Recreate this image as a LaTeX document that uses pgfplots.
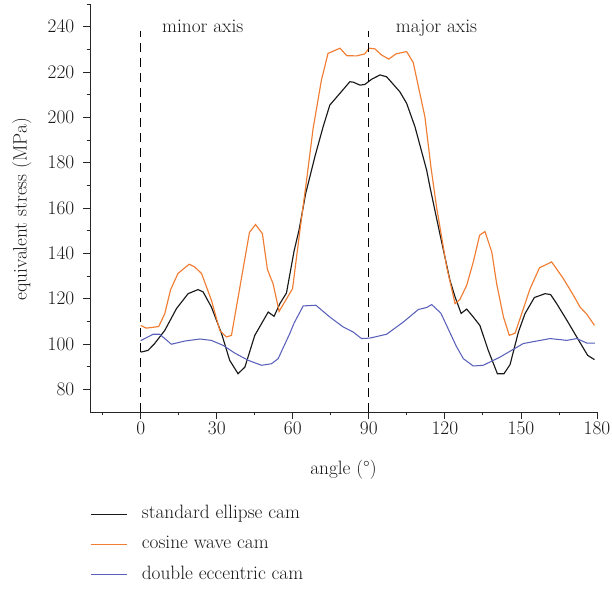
\documentclass[border=0pt]{standalone}
\usepackage{pgfplots}
\pgfplotsset{compat=1.18}
\definecolor{cosor}{RGB}{240,125,50}
\definecolor{debl}{RGB}{88,96,186}
\newcommand{\fs}{\fontsize{19.3}{23}\selectfont}
\begin{document}
\begin{tikzpicture}
\begin{axis}[
 scale only axis, width=507pt, height=408pt,
 at={(0pt,0pt)}, anchor=south west,
 xmin=-20, xmax=180, ymin=70, ymax=250,
 axis lines=left,
 axis line style={-, line width=0.9pt, black!85},
 xtick={0,30,...,180}, minor xtick={-15,15,...,165},
 ytick={80,100,...,240}, minor ytick={90,110,...,250},
 tick align=outside,
 major tick length=6.7pt, minor tick length=3.3pt,
 tick style={black!85, line width=0.9pt},
 tick label style={font=\fs, black!90},
 yticklabel style={xshift=-5.5pt},
 /pgf/number format/assume math mode=true,
 every axis y label/.style={at={(axis description cs:-0.1249,0.4975)}, rotate=90, anchor=base, inner sep=0pt, font=\fs, black!90},
 every axis x label/.style={at={(axis description cs:0.5,-0.1527)}, anchor=base, inner sep=0pt, font=\fs, black!90},
 xlabel={angle (°)},
 ylabel={equivalent stress (MPa)},
 legend cell align=left,
 legend style={at={(axis description cs:0.0014,-0.2277)}, anchor=north west, draw=none, fill=none, inner sep=0pt, outer sep=0pt, column sep=14pt, row sep=12pt, nodes={inner sep=0pt, text height=13.4pt, text depth=5pt, font=\fs, text=black!90}},
 legend image code/.code={\draw[#1] (0pt,0pt) -- (36pt,0pt);},
]
\addplot[black!90, line width=1.15pt] coordinates {
(0,96.4) (2.9,97.2) (5.5,100.2) (9.5,106.0) (14.1,115.6) (18.7,122.2) (22.6,124.0) (24.6,123.0) (27.9,116.3) (31.9,104.6) (35.1,92.8) (38.4,86.9) (41.1,89.8) (45.0,103.8) (50.3,114.1) (52.6,112.2) (54.9,117.8) (57.5,122.5) (60.5,141.0) (62.5,150.5) (65.1,166.5) (68.7,182.6) (72,196) (74.6,205.4) (78.6,210.6) (82.5,215.7) (83.9,215.5) (86.5,214.2) (88.4,214.5) (91.1,216.8) (94.4,218.7) (97.0,217.9) (102.2,211.3) (104.9,206.2) (108.2,195.8) (112.8,176.7) (114.1,169.3) (118.0,148.7) (122.0,128.1) (124.0,120.8) (126.4,113.5) (128.6,115.4) (131.2,111.9) (133.8,108.2) (137.1,97.2) (140.7,86.9) (143.3,86.9) (145.7,90.9) (149.0,105.3) (151.6,113.4) (155.3,120.5) (159.5,122.2) (161.7,121.8) (164.1,117.8) (168.1,110.5) (172.0,103.1) (176.3,95.0) (179.0,93.1)
};
\addlegendentry{standard ellipse cam}
\addplot[cosor, line width=1.15pt] coordinates {
(0,108.2) (2.2,107.0) (7.1,107.7) (9.5,113.4) (11.8,124.0) (14.7,131.1) (19.1,135.2) (21.3,134.0) (24.0,131.1) (27.9,119.3) (31.2,106.0) (33.8,103.1) (35.8,103.8) (42.9,149.2) (45.3,152.7) (48.0,148.7) (50.0,132.8) (52.2,126.7) (54.6,114.4) (59.9,124.4) (62.8,150.0) (65.4,172) (68,195) (71.3,216.5) (73.9,228.2) (78.6,230.5) (81.3,227.2) (85.2,227.1) (88.4,228.0) (90.1,230.5) (92.4,230.2) (95.0,227.5) (97.9,225.7) (100.7,228.0) (104.9,229.0) (107.5,224.2) (112.1,200.3) (114.5,178) (116.7,160.5) (120.7,134.0) (124.0,117.8) (125.9,119.6) (128.6,125.9) (131.2,136.2) (133.7,148.0) (135.8,149.6) (138.5,140.6) (140.4,126.7) (143.1,111.9) (145.4,103.8) (147.7,104.8) (150.3,113.4) (153.6,124.4) (157.3,133.6) (162.1,136.2) (166.7,128.9) (170.7,121.5) (173.3,116.3) (176.0,113.1) (179.0,108.2)
};
\addlegendentry{cosine wave cam}
\addplot[debl, line width=1.05pt] coordinates {
(0,101.5) (4.9,104.3) (7.5,104.3) (12.1,99.9) (17.4,101.3) (23.3,102.2) (27.9,101.6) (32.5,99.4) (37.1,96.0) (42.4,92.8) (47.7,90.6) (51.6,91.3) (54.2,93.5) (58.8,104.6) (60.5,109.2) (64.1,116.8) (69.1,117.1) (74.6,111.9) (79.9,107.5) (83.8,105.3) (87.1,102.4) (90.4,102.6) (97.0,104.3) (103.6,109.7) (109.5,115.2) (112.8,116.1) (114.8,117.4) (118.4,113.6) (122.0,105.0) (124.5,99.0) (127.3,93.5) (131.2,90.3) (135.1,90.6) (141.7,94.2) (150.9,100.2) (161.5,102.4) (168.1,101.6) (172.0,102.4) (176.0,100.4) (179.2,100.4)
};
\addlegendentry{double eccentric cam}
\addplot[black, line width=0.9pt, dash pattern=on 9pt off 6pt, forget plot] coordinates {(0,70) (0,238.2)};
\addplot[black, line width=0.9pt, dash pattern=on 9pt off 6pt, forget plot] coordinates {(90,70) (90,238.2)};
\node[anchor=base west, inner sep=0pt, font=\fs, black!90] at (axis cs:8.4,237.5) {minor axis};
\node[anchor=base west, inner sep=0pt, font=\fs, black!90] at (axis cs:100.6,237.5) {major axis};
\end{axis}
\pgfresetboundingbox
\path (-90pt,-176pt) rectangle (522pt,412pt);
\end{tikzpicture}
\end{document}
